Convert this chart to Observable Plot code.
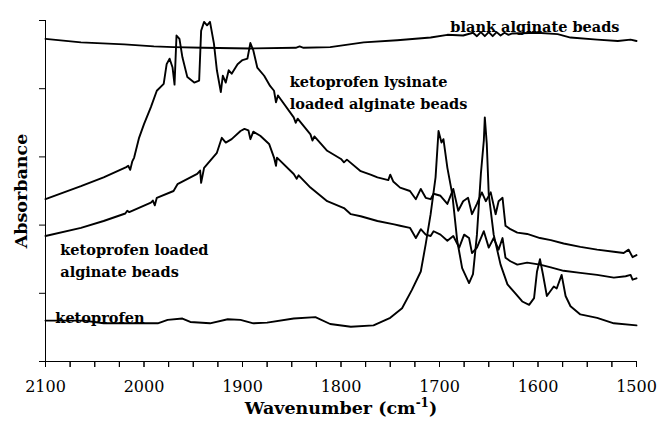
<!DOCTYPE html>
<html>
<head>
<meta charset="utf-8">
<script src="https://cdn.jsdelivr.net/npm/d3@7"></script>
<script src="https://cdn.jsdelivr.net/npm/@observablehq/plot@0.6"></script>
<style>
  html, body { margin: 0; padding: 0; background: #fff; }
  #chart svg { display: block; }
</style>
</head>
<body>
<div id="chart"></div>
<script>
// Wavenumber (cm-1), absorbance (arbitrary units, one y tick = 1 unit)
const blankBeads = [
  [2100,4.73],[2064,4.68],[2020,4.65],[1990,4.62],[1970,4.61],[1940,4.60],[1892,4.59],
  [1846,4.60],[1842,4.62],[1838,4.60],[1811,4.61],[1777,4.68],[1743,4.71],[1709,4.75],
  [1692,4.79],[1676,4.78],[1666,4.82],[1662,4.77],[1658,4.83],[1654,4.77],[1650,4.83],
  [1646,4.77],[1642,4.83],[1638,4.78],[1634,4.82],[1630,4.79],[1626,4.81],[1601,4.82],
  [1580,4.80],[1567,4.75],[1540,4.72],[1519,4.70],[1506,4.72],[1500,4.70]
];
const lysinateBeads = [
  [2100,2.38],[2064,2.57],[2041,2.70],[2018,2.85],[2016,2.87],[2014,2.81],[2012,2.93],
  [2010,2.99],[2005,3.28],[2000,3.48],[1993,3.73],[1987,3.97],[1980,4.07],[1977,4.36],
  [1974,4.44],[1971,4.31],[1969,4.06],[1967,4.78],[1964,4.73],[1961,4.46],[1956,4.17],
  [1949,4.09],[1944,4.12],[1942,4.85],[1939,4.98],[1936,4.93],[1933,4.98],[1929,4.66],
  [1926,4.27],[1922,3.95],[1920,4.19],[1917,4.09],[1914,4.27],[1911,4.22],[1905,4.36],
  [1900,4.42],[1895,4.44],[1892,4.67],[1889,4.56],[1885,4.31],[1878,4.19],[1872,4.04],
  [1868,3.97],[1866,3.80],[1864,3.90],[1848,3.58],[1846,3.50],[1844,3.56],[1831,3.33],
  [1829,3.24],[1827,3.30],[1814,3.09],[1800,2.97],[1797,2.92],[1794,2.96],[1780,2.79],
  [1770,2.74],[1763,2.70],[1752,2.66],[1750,2.74],[1747,2.64],[1740,2.55],[1730,2.50],
  [1724,2.38],[1719,2.53],[1714,2.40],[1709,2.38],[1706,2.46],[1699,2.43],[1692,2.31],
  [1686,2.53],[1681,2.21],[1676,2.35],[1671,2.40],[1667,2.16],[1662,2.31],[1657,2.48],
  [1653,2.35],[1648,2.48],[1643,2.16],[1640,2.35],[1636,2.40],[1633,1.99],[1628,1.94],
  [1621,1.89],[1611,1.87],[1598,1.81],[1587,1.78],[1574,1.73],[1557,1.68],[1540,1.64],
  [1523,1.61],[1513,1.59],[1508,1.64],[1504,1.53],[1500,1.56]
];
const loadedBeads = [
  [2100,1.84],[2064,1.96],[2041,2.06],[2019,2.17],[2017,2.21],[2015,2.19],[1993,2.33],
  [1991,2.36],[1989,2.29],[1987,2.40],[1970,2.50],[1966,2.60],[1946,2.75],[1943,2.80],
  [1942,2.62],[1939,2.84],[1926,3.06],[1921,3.28],[1917,3.21],[1911,3.26],[1902,3.38],
  [1898,3.41],[1894,3.39],[1892,3.26],[1889,3.37],[1882,3.31],[1873,3.19],[1868,2.99],
  [1866,2.87],[1865,2.99],[1848,2.75],[1845,2.68],[1843,2.73],[1831,2.55],[1814,2.35],
  [1797,2.25],[1790,2.16],[1780,2.13],[1763,2.06],[1746,2.01],[1740,1.99],[1730,1.96],
  [1724,1.81],[1719,1.94],[1714,1.86],[1709,1.84],[1706,1.91],[1699,1.86],[1692,1.77],
  [1686,1.84],[1680,1.67],[1675,1.86],[1670,1.81],[1667,1.59],[1662,1.67],[1655,1.91],
  [1650,1.67],[1645,1.81],[1640,1.64],[1636,1.81],[1633,1.52],[1628,1.47],[1621,1.42],
  [1611,1.45],[1598,1.42],[1587,1.38],[1574,1.33],[1557,1.30],[1540,1.27],[1523,1.23],
  [1511,1.25],[1506,1.27],[1504,1.20],[1500,1.22]
];
const ketoprofen = [
  [2100,0.60],[2061,0.60],[2041,0.56],[1986,0.56],[1976,0.61],[1961,0.63],[1953,0.58],
  [1933,0.56],[1915,0.62],[1902,0.61],[1889,0.56],[1875,0.57],[1848,0.63],[1826,0.65],
  [1811,0.55],[1790,0.51],[1767,0.53],[1750,0.64],[1738,0.78],[1728,1.05],[1719,1.32],
  [1714,1.72],[1709,2.16],[1704,2.70],[1701,3.38],[1698,3.21],[1696,3.26],[1692,2.84],
  [1687,2.45],[1682,1.77],[1677,1.37],[1670,1.15],[1666,1.28],[1662,1.86],[1658,2.75],
  [1655,3.24],[1654,3.58],[1652,3.19],[1650,2.45],[1645,1.86],[1638,1.42],[1631,1.13],
  [1623,1.00],[1616,0.88],[1609,0.83],[1604,0.93],[1601,1.32],[1598,1.50],[1595,1.28],
  [1591,0.96],[1584,1.10],[1581,1.07],[1576,1.27],[1572,0.96],[1567,0.81],[1557,0.69],
  [1540,0.64],[1523,0.56],[1500,0.53]
];

const seriesNames = ["blank alginate beads", "ketoprofen lysinate loaded alginate beads",
                     "ketoprofen loaded alginate beads", "ketoprofen"];
const seriesData = [blankBeads, lysinateBeads, loadedBeads, ketoprofen];

const labelText = ["blank alginate beads", "ketoprofen lysinate\nloaded alginate beads",
                   "ketoprofen loaded\nalginate beads", "ketoprofen"];
const labelWn = [1689, 1852, 2085, 2090];
const labelAbs = [5.063, 4.259, 1.794, 0.788];

const xTicks = d3.range(1500, 2101, 25);
const xLabelTicks = d3.range(1500, 2101, 100);
const yTicks = [0, 1, 2, 3, 4, 5];
const xTitle = "Wavenumber (cm-1)";
const yTitle = "Absorbance";

const rows = seriesData.flatMap((pts, i) => pts.map(([wn, a]) => ({series: seriesNames[i], wn, a})));
const labels = labelText.map((t, i) => ({t, wn: labelWn[i], a: labelAbs[i]}));

const font = "'DejaVu Serif', serif";

const chart = Plot.plot({
  width: 658,
  height: 423,
  marginLeft: 45,
  marginRight: 22,
  marginTop: 20,
  marginBottom: 62,
  style: {fontFamily: font, fontSize: "16px", background: "#fff", color: "#000"},
  x: {domain: [2100, 1500]},
  y: {domain: [0, 5]},
  marks: [
    // x tick marks every 25 cm-1, hanging below the frame
    Plot.axisX({ticks: xTicks, tickSize: 6, tickFormat: () => "", label: null, stroke: "#000"}),
    Plot.ruleX(xTicks, {x: d => d, y1: 0, y2: -0.088, stroke: "#000", strokeWidth: 1}),
    Plot.axisX({ticks: xLabelTicks, tickFormat: d => String(d), tickSize: 0, tickPadding: 19, label: null,
                fontSize: 16, fontFamily: font, fill: "#000"}),
    Plot.axisY({ticks: yTicks, tickFormat: () => "", tickSize: 6, label: null, stroke: "#000"}),
    Plot.ruleY([0], {stroke: "#000", strokeWidth: 1}),
    Plot.ruleX([2100], {stroke: "#000", strokeWidth: 1}),
    Plot.line(rows, {x: "wn", y: "a", z: "series", stroke: "#000", strokeWidth: 1.9, strokeLinejoin: "round"}),
    Plot.text(labels, {x: "wn", y: "a", text: "t", textAnchor: "start", lineAnchor: "top",
                       lineHeight: 1.52, fontSize: 14.5, fontWeight: "bold", fontFamily: font, fill: "#000"}),
    Plot.text([yTitle], {text: d => d, frameAnchor: "left", textAnchor: "middle", lineAnchor: "middle",
                         rotate: -90, dx: -24.4, fontSize: 17.5, fontWeight: "bold", fontFamily: font, fill: "#000"}),
    Plot.text([xTitle], {text: d => d, frameAnchor: "bottom", dy: 52,
                         fontSize: 17.5, fontWeight: "bold", fontFamily: font, fill: "#000"})
  ]
});

document.getElementById("chart").appendChild(chart);

// superscript for the unit in the x title
d3.select(chart).selectAll("text").filter(function() { return this.textContent === xTitle; })
  .each(function() {
    const t = d3.select(this);
    t.text(null);
    t.append("tspan").text("Wavenumber (cm");
    t.append("tspan").attr("baseline-shift", "super").attr("font-size", "12").text("-1");
    t.append("tspan").text(")");
  });
</script>
</body>
</html>
